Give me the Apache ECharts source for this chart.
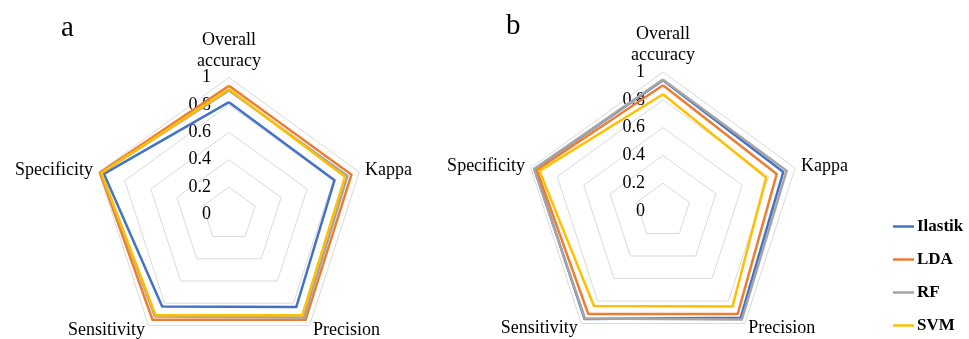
<!DOCTYPE html>
<html><head><meta charset="utf-8">
<script src="https://cdn.jsdelivr.net/npm/echarts@6/dist/echarts.min.js"></script>
<style>html,body{margin:0;padding:0;background:#fff}#c{width:969px;height:339px}</style>
</head><body><div id="c"></div>
<script>
// categories in clockwise order starting at top
const categories = ['Overall\naccuracy', 'Kappa', 'Precision', 'Sensitivity', 'Specificity'];
const seriesNames = ['Ilastik', 'LDA', 'RF', 'SVM'];
const tickLabels = [0, 0.2, 0.4, 0.6, 0.8, 1];
// panel a
const aIlastik = [0.82, 0.81, 0.835, 0.83, 0.96];
const aLDA     = [0.94, 0.94, 0.95, 0.95, 0.99];
const aRF      = [0.905, 0.91, 0.93, 0.92, 0.98];
const aSVM     = [0.915, 0.89, 0.91, 0.91, 0.98];
// panel b
const bIlastik = [0.94, 0.91, 0.95, 0.96, 0.97];
const bLDA     = [0.905, 0.86, 0.915, 0.915, 0.955];
const bRF      = [0.945, 0.935, 0.965, 0.955, 0.975];
const bSVM     = [0.84, 0.78, 0.85, 0.845, 0.935];

const colors = ['#4472C4', '#ED7D31', '#A5A5A5', '#FFC000'];
const SERIF = '"Liberation Serif", "Times New Roman", serif';
// ECharts lays indicators counter-clockwise; map clockwise order
const perm = [0, 4, 3, 2, 1];
const reorder = arr => perm.map(i => arr[i]);
const indicator = perm.map(i => ({ name: categories[i], min: 0, max: 1 }));

const radarCommon = {
  shape: 'polygon',
  splitNumber: 5,
  startAngle: 90,
  indicator: indicator,
  axisLine: { show: false },
  axisTick: { show: false },
  axisLabel: { show: false },
  splitArea: { show: false },
  splitLine: { lineStyle: { color: '#d9d9d9', width: 1 } },
  nameGap: 6,
  axisName: { color: '#000', fontFamily: SERIF, fontSize: 18, lineHeight: 21 }
};

const panels = [[aIlastik, aLDA, aRF, aSVM], [bIlastik, bLDA, bRF, bSVM]];
const series = panels.map((p, ri) => ({
  type: 'radar',
  radarIndex: ri,
  symbol: 'none',
  data: p.map((vals, k) => ({
    name: seriesNames[k],
    value: reorder(vals),
    lineStyle: { color: colors[k], width: 2.5 },
    itemStyle: { color: colors[k] }
  }))
}));

const chart = echarts.init(document.getElementById('c'));
chart.setOption({
  animation: false,
  title: [
    { text: 'a', left: 56, top: 9, textStyle: { fontFamily: SERIF, fontSize: 29, fontWeight: 'normal', color: '#000' } },
    { text: 'b', left: 501, top: 7, textStyle: { fontFamily: SERIF, fontSize: 29, fontWeight: 'normal', color: '#000' } }
  ],
  legend: {
    orient: 'vertical', left: 893, top: 218, itemGap: 16, padding: 0,
    icon: 'rect', itemWidth: 21, itemHeight: 2.5,
    data: seriesNames,
    textStyle: { fontFamily: SERIF, fontSize: 17, lineHeight: 17, fontWeight: 'bold', color: '#000', padding: [0, 0, 0, -2] }
  },
  color: colors,
  radar: [
    Object.assign({}, radarCommon, { center: [229, 214.5], radius: 137 }),
    Object.assign({}, radarCommon, { center: [663, 211], radius: 139 })
  ],
  grid: [
    { left: 229, top: 77.5, width: 1, height: 137 },
    { left: 663, top: 72, width: 1, height: 139 }
  ],
  xAxis: [
    { gridIndex: 0, type: 'value', show: false },
    { gridIndex: 1, type: 'value', show: false }
  ],
  yAxis: [0, 1].map(g => ({
    gridIndex: g, type: 'value', min: tickLabels[0], max: tickLabels[tickLabels.length - 1], interval: 0.2,
    axisLine: { show: false }, axisTick: { show: false }, splitLine: { show: false },
    axisLabel: { margin: 18, color: '#000', fontFamily: SERIF, fontSize: 18 }
  })),
  series: series
});
</script></body></html>
